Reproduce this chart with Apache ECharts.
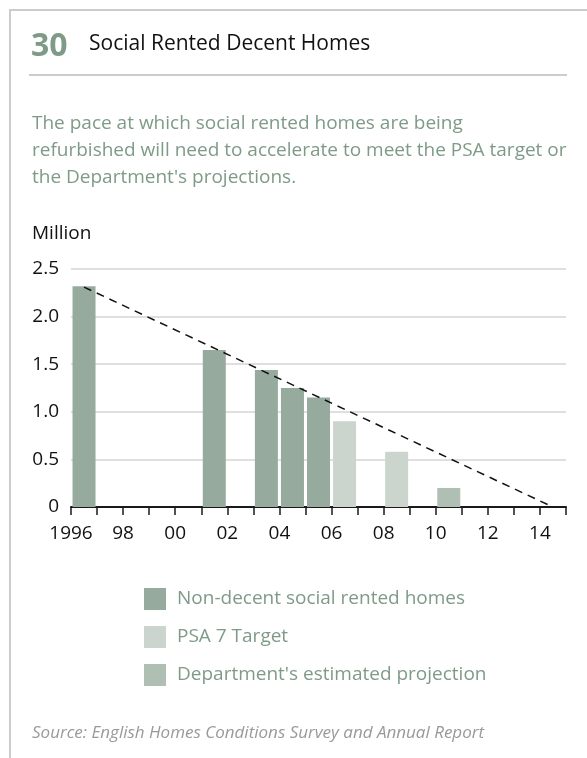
<!DOCTYPE html>
<html>
<head>
<meta charset="utf-8">
<title>Social Rented Decent Homes</title>
<script src="https://cdn.jsdelivr.net/npm/echarts@6/dist/echarts.min.js"></script>
<style>
  html, body { margin: 0; padding: 0; background: #fff; }
  #chart { width: 587px; height: 758px; }
</style>
</head>
<body>
<div id="chart"></div>
<script>
// Years on the horizontal axis (one slot per year)
const years = ['1996','1997','1998','1999','2000','2001','2002','2003','2004','2005',
               '2006','2007','2008','2009','2010','2011','2012','2013','2014'];

// Non-decent social rented homes, million
const nonDecent = [2.32, null, null, null, null, 1.65, null, 1.44, 1.25, 1.15,
                   null, null, null, null, null, null, null, null, null];

// PSA 7 target, million
const psaTarget = [null, null, null, null, null, null, null, null, null, null,
                   0.90, null, 0.58, null, null, null, null, null, null];

// Department's estimated projection, million
const projection = [null, null, null, null, null, null, null, null, null, null,
                    null, null, null, null, 0.20, null, null, null, null];

// Straight-line trend from 1996 down to zero
const trendLine = [['1996', 2.31], ['2014', 0]];

// Value-axis tick labels
const yTicks = [0, 0.5, 1.0, 1.5, 2.0, 2.5];

const FONT = '"Open Sans", "Noto Sans", sans-serif';
const GREEN_TEXT = '#7f9b88';

const chart = echarts.init(document.getElementById('chart'), null, { renderer: 'canvas' });

chart.setOption({
  animation: false,
  backgroundColor: '#fff',
  textStyle: { fontFamily: FONT },
  grid: { left: 71, right: 21, top: 269, height: 238 },
  legend: {
    orient: 'vertical',
    left: 139,
    top: 583,
    itemWidth: 22,
    itemHeight: 22,
    itemGap: 16,
    icon: 'rect',
    data: ['Non-decent social rented homes', 'PSA 7 Target', "Department's estimated projection"],
    textStyle: { color: GREEN_TEXT, fontSize: 19, fontFamily: FONT, padding: [0, 0, 0, 6] }
  },
  xAxis: [
    {
      type: 'category',
      data: years,
      boundaryGap: true,
      axisLine: { lineStyle: { color: '#1a1a1a', width: 2 } },
      axisTick: { show: true, interval: 0, length: 8, lineStyle: { color: '#1a1a1a', width: 1.5 } },
      axisLabel: { show: false },
      splitLine: { show: false }
    },
    {
      // Year labels sit on the slot boundaries
      type: 'value',
      position: 'bottom',
      min: 1996,
      max: 2015,
      interval: 1,
      axisLine: { show: false },
      axisTick: { show: false },
      splitLine: { show: false },
      axisLabel: {
        margin: 17,
        color: '#111',
        fontSize: 19,
        fontFamily: FONT,
        showMaxLabel: false,
        formatter: function (v) {
          if (v % 2 !== 0 || v > 2014) return '';
          return v === 1996 ? '1996' : String(v).slice(2);
        }
      }
    }
  ],
  yAxis: {
    type: 'value',
    min: 0,
    max: 2.5,
    interval: 0.5,
    axisLine: { show: false },
    axisTick: { show: false },
    splitLine: { lineStyle: { color: '#d4d4d4', width: 1.5 } },
    axisLabel: {
      margin: 12,
      color: '#111',
      fontSize: 19,
      fontFamily: FONT,
      formatter: function (v) {
        return yTicks.indexOf(v) === -1 ? '' : (v === 0 ? '0' : v.toFixed(1));
      }
    }
  },
  series: [
    {
      name: 'Non-decent social rented homes',
      type: 'bar',
      stack: 'homes',
      xAxisIndex: 0,
      barWidth: 23,
      itemStyle: { color: '#97aa9e' },
      data: nonDecent
    },
    {
      name: 'PSA 7 Target',
      type: 'bar',
      stack: 'homes',
      xAxisIndex: 0,
      barWidth: 23,
      itemStyle: { color: '#cbd5cd' },
      data: psaTarget
    },
    {
      name: "Department's estimated projection",
      type: 'bar',
      stack: 'homes',
      xAxisIndex: 0,
      barWidth: 23,
      itemStyle: { color: '#afbfb4' },
      data: projection
    },
    {
      name: 'Trend',
      type: 'line',
      xAxisIndex: 0,
      data: trendLine,
      symbol: 'none',
      lineStyle: { color: '#111', width: 1.5, type: [8, 6] },
      z: 5
    }
  ],
  graphic: [
    {
      // card frame: left and top edges
      type: 'polyline',
      shape: { points: [[10, 758], [10, 10], [587, 10]] },
      style: { stroke: '#cccccc', lineWidth: 2, fill: null },
      silent: true
    },
    {
      type: 'line',
      shape: { x1: 29, y1: 75, x2: 567, y2: 75 },
      style: { stroke: '#cccccc', lineWidth: 2 },
      silent: true
    },
    {
      type: 'text',
      x: 31, y: 47,
      style: { text: '30', fill: GREEN_TEXT, font: 'bold 32px ' + FONT, verticalAlign: 'middle' }
    },
    {
      type: 'text',
      x: 89, y: 44,
      style: { text: 'Social Rented Decent Homes', fill: '#111', font: '21px ' + FONT, verticalAlign: 'middle' }
    },
    {
      type: 'text',
      x: 32, y: 110,
      style: {
        text: 'The pace at which social rented homes are being\nrefurbished will need to accelerate to meet the PSA target or\nthe Department\'s projections.',
        fill: GREEN_TEXT,
        font: '19px ' + FONT,
        lineHeight: 27
      }
    },
    {
      type: 'text',
      x: 32, y: 234,
      style: { text: 'Million', fill: '#111', font: '19px ' + FONT, verticalAlign: 'middle' }
    },
    {
      type: 'text',
      x: 32, y: 733,
      style: {
        text: 'Source: English Homes Conditions Survey and Annual Report',
        fill: '#999999',
        font: 'italic 17px ' + FONT,
        verticalAlign: 'middle'
      }
    }
  ]
});
</script>
</body>
</html>
